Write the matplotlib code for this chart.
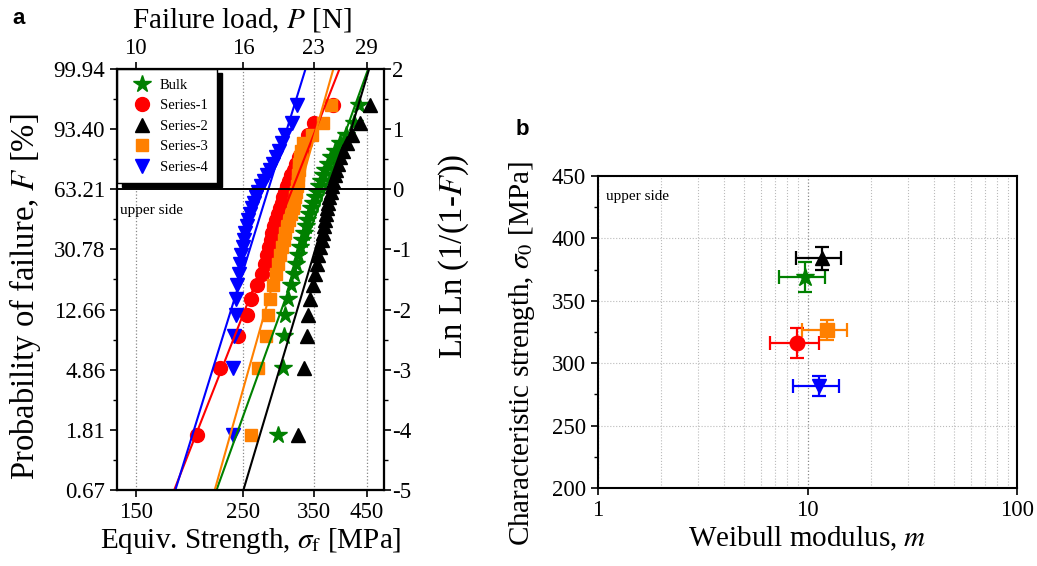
import numpy as np
import matplotlib
matplotlib.use('Agg')
import matplotlib.pyplot as plt
from matplotlib.ticker import FixedLocator, NullLocator, MultipleLocator, LogLocator, NullFormatter

plt.rcParams['font.family'] = ['Liberation Serif', 'DejaVu Serif']
plt.rcParams['mathtext.fontset'] = 'stix'
plt.rcParams['axes.unicode_minus'] = False

# ---------------- data ----------------
series_names = ['Bulk', 'Series-1', 'Series-2', 'Series-3', 'Series-4']
colors = ['#008000', '#ff0000', '#000000', '#ff8000', '#0000ff']
markers = ['*', 'o', '^', 's', 'v']
marker_sizes = [13, 10, 10, 9, 10]

# equivalent strength [MPa], sorted, 30 specimens per series
strength_bulk = [295, 302, 304, 305, 309, 314, 318, 321, 325, 328, 331, 334, 337, 339, 342,
                 345, 348, 352, 355, 359, 362, 366, 369, 374, 380, 387, 396, 408, 424, 434]
strength_s1 = [201, 224, 244, 255, 260, 267, 274, 277, 280, 283, 285, 287, 290, 292, 295,
               298, 301, 302, 305, 308, 311, 314, 318, 321, 326, 331, 336, 340, 350, 383]
strength_s2 = [325, 334, 339, 340, 344, 348, 352, 355, 357, 360, 364, 366, 367, 369, 371,
               373, 374, 376, 380, 382, 383, 387, 389, 393, 396, 402, 410, 420, 436, 457]
strength_s3 = [260, 268, 279, 281, 284, 288, 292, 295, 298, 301, 304, 305, 308, 311, 314,
               317, 318, 320, 321, 323, 325, 325, 326, 326, 328, 329, 332, 347, 366, 380]
strength_s4 = [238, 238, 239, 242, 242, 243, 245, 246, 248, 250, 251, 252, 255, 256, 258,
               261, 263, 266, 268, 272, 276, 280, 284, 288, 292, 297, 301, 305, 315, 323]
strengths = [strength_bulk, strength_s1, strength_s2, strength_s3, strength_s4]

# Weibull parameters (panel b)
weibull_m = [9.7, 8.9, 11.7, 12.4, 11.3]
weibull_m_lo = [7.3, 6.6, 8.8, 9.4, 8.5]
weibull_m_hi = [12.1, 11.3, 14.4, 15.5, 14.2]
char_strength = [369, 316, 384, 327, 282]
char_strength_err = [12, 12, 9, 8, 8]

# axis ticks
lnln_ticks = [-5, -4, -3, -2, -1, 0, 1, 2]
prob_labels = ['0.67', '1.81', '4.86', '12.66', '30.78', '63.21', '93.40', '99.94']
strength_ticks = [150, 250, 350, 450]
load_labels = ['10', '16', '23', '29']
m_ticks = [1, 10, 100]
sigma0_ticks = [200, 250, 300, 350, 400, 450]

# ---------------- figure ----------------
fig = plt.figure(figsize=(10.37, 5.66), dpi=100)

TICK_FS = 16.5
LABEL_FS = 21
VLABEL_FS = 23.5

ax = fig.add_axes([0.1128, 0.1343, 0.2575, 0.7438])
ax.set_xscale('log')
xlim_a = (137.2, 489)
ax.set_xlim(*xlim_a)
ax.set_ylim(-5, 2)

for k in range(len(series_names)):
    s = np.sort(np.array(strengths[k], dtype=float))
    n = len(s)
    F = (np.arange(1, n + 1) - 0.5) / n
    y = np.log(-np.log(1 - F))
    ax.plot(s, y, linestyle='none', marker=markers[k], ms=marker_sizes[k],
            color=colors[k], mec=colors[k], zorder=2, label=series_names[k])

# fitted Weibull lines
yy = np.linspace(-5.5, 2.5, 50)
for k in range(len(series_names)):
    xs = char_strength[k] * np.exp(yy / weibull_m[k])
    ax.plot(xs, yy, '-', color=colors[k], lw=1.5, zorder=3)

ax.axhline(0, color='k', lw=1.4, zorder=4)
ax.xaxis.set_major_locator(FixedLocator(strength_ticks))
ax.xaxis.set_minor_locator(NullLocator())
ax.set_xticklabels([str(v) for v in strength_ticks])
ax.xaxis.set_minor_formatter(NullFormatter())
ax.set_yticks(lnln_ticks)
ax.set_yticklabels(prob_labels)
ax.yaxis.set_minor_locator(MultipleLocator(0.5))
ax.grid(axis='x', which='major', ls=':', color='#888888', lw=0.9)
ax.tick_params(axis='both', which='major', direction='out', length=5, width=1.2,
               labelsize=TICK_FS, top=False, right=False)
ax.tick_params(axis='y', which='minor', direction='out', length=3, width=1.0, right=False)
for sp in ax.spines.values():
    sp.set_linewidth(1.5)
ax.set_xlabel(r'Equiv. Strength, $\sigma_{\rm f}$ [MPa]', fontsize=LABEL_FS, labelpad=2)
ax.set_ylabel(r'Probability of failure, $F$ [%]', fontsize=VLABEL_FS)
ax.yaxis.set_label_coords(-0.277, 0.458)

ax.text(0.012, 0.665, 'upper side', transform=ax.transAxes, fontsize=11,
        ha='left', va='center')

leg = ax.legend(loc='upper left', bbox_to_anchor=(0.0, 1.0), borderaxespad=0.0,
                numpoints=1, fontsize=10.5, frameon=True, fancybox=False,
                edgecolor='black', framealpha=1, handletextpad=0.1,
                labelspacing=0.5, borderpad=0.65, handlelength=2.2,
                shadow={'ox': 3.5, 'oy': -3, 'color': 'black', 'alpha': 1})
leg.get_frame().set_linewidth(1.0)
leg.set_zorder(10)

# top axis: failure load
axt = ax.twiny()
axt.set_xscale('log')
axt.set_xlim(*xlim_a)
axt.xaxis.set_major_locator(FixedLocator(strength_ticks))
axt.xaxis.set_minor_locator(NullLocator())
axt.set_xticklabels(load_labels)
axt.xaxis.set_minor_formatter(NullFormatter())
axt.tick_params(axis='x', which='major', direction='out', length=5, width=1.2,
                labelsize=TICK_FS, pad=2)
axt.set_xlabel(r'Failure load, $P$ [N]', fontsize=LABEL_FS)
axt.xaxis.set_label_coords(0.468, 1.097)

# right axis: Ln Ln
axr = ax.twinx()
axr.set_ylim(-5, 2)
axr.set_yticks(lnln_ticks)
axr.yaxis.set_minor_locator(MultipleLocator(0.5))
axr.tick_params(axis='y', which='major', direction='out', length=5, width=1.2,
                labelsize=TICK_FS, pad=1)
axr.tick_params(axis='y', which='minor', direction='out', length=3, width=1.0)
axr.set_ylabel(r'Ln Ln (1/(1-$F$))', fontsize=VLABEL_FS)
axr.yaxis.set_label_coords(1.195, 0.555)
for a in (axt, axr):
    for sp in a.spines.values():
        sp.set_linewidth(1.5)

fig.text(0.012, 0.985, 'a', fontsize=16, fontweight='bold',
         family=['Liberation Sans', 'DejaVu Sans'], ha='left', va='top')

# ---------------- panel b ----------------
axb = fig.add_axes([0.5767, 0.1378, 0.4041, 0.5512])
axb.set_xscale('log')
axb.set_xlim(1, 100)
axb.set_ylim(200, 450)
for k in range(len(series_names)):
    xerr = [[weibull_m[k] - weibull_m_lo[k]], [weibull_m_hi[k] - weibull_m[k]]]
    axb.errorbar([weibull_m[k]], [char_strength[k]], xerr=xerr,
                 yerr=[[char_strength_err[k]], [char_strength_err[k]]],
                 fmt=markers[k], ms=marker_sizes[k] + 0.5, color=colors[k], mec=colors[k],
                 ecolor=colors[k], elinewidth=1.6, capsize=5, capthick=1.6, zorder=5)

axb.xaxis.set_major_locator(FixedLocator(m_ticks))
axb.set_xticklabels([str(v) for v in m_ticks])
axb.xaxis.set_minor_locator(LogLocator(base=10, subs=np.arange(2, 10)))
axb.xaxis.set_minor_formatter(NullFormatter())
axb.set_yticks(sigma0_ticks)
axb.yaxis.set_minor_locator(MultipleLocator(25))
axb.grid(axis='x', which='major', ls=':', color='#888888', lw=0.9)
axb.grid(axis='x', which='minor', ls=':', color='#bbbbbb', lw=0.8)
axb.grid(axis='y', which='major', ls=':', color='#bbbbbb', lw=0.8)
axb.tick_params(axis='both', which='major', direction='out', length=5, width=1.2,
                labelsize=TICK_FS)
axb.tick_params(axis='x', which='minor', length=0)
axb.tick_params(axis='y', which='minor', direction='out', length=3, width=1.0)
for sp in axb.spines.values():
    sp.set_linewidth(1.5)
axb.set_xlabel(r'Weibull modulus, $m$', fontsize=LABEL_FS, labelpad=3)
axb.set_ylabel(r'Characteristic strength, $\sigma_0$ [MPa]', fontsize=LABEL_FS)
axb.yaxis.set_label_coords(-0.146, 0.43)
axb.text(0.02, 0.935, 'upper side', transform=axb.transAxes, fontsize=11,
         ha='left', va='center')

fig.text(0.497, 0.79, 'b', fontsize=16, fontweight='bold',
         family=['Liberation Sans', 'DejaVu Sans'], ha='left', va='top')

fig.savefig('out.png', dpi=100)
